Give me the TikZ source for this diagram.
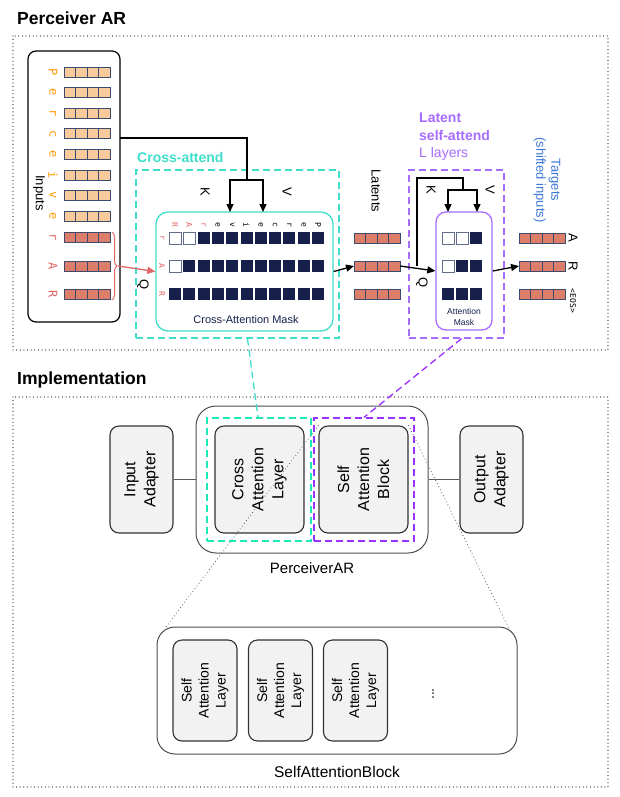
\documentclass[tikz,border=0pt]{standalone}
\usepackage{fontspec}
\setmainfont{Liberation Sans}
\newfontfamily\monof{DejaVu Sans Mono}
\usetikzlibrary{arrows.meta,decorations.pathreplacing}

\definecolor{inorange}{HTML}{F9CB9C}
\definecolor{letorange}{HTML}{FF9900}
\definecolor{latred}{HTML}{DD7E6B}
\definecolor{letred}{HTML}{E06666}
\definecolor{cellnavy}{HTML}{16204A}
\definecolor{celledge}{HTML}{3C4A6E}
\definecolor{xturq}{HTML}{40DEC8}
\definecolor{xgreen}{HTML}{1DE9B6}
\definecolor{lpurple}{HTML}{A66CFF}
\definecolor{spurple}{HTML}{9B30FF}
\definecolor{tblue}{HTML}{3C78D8}
\definecolor{boxgray}{HTML}{F2F2F2}

\begin{document}
\begin{tikzpicture}[x=1pt,y=-1pt,
    secframe/.style={draw=black!55, line width=1.2pt, dash pattern=on 0.01pt off 3.6pt, line cap=round},
    sectitle/.style={anchor=west, inner sep=0pt, font=\fontsize{17.5}{20}\selectfont\bfseries},
    cellline/.style={draw=celledge, line width=0.8pt},
    whitecell/.style={draw=celledge!80, fill=white, line width=0.8pt},
    letter/.style={rotate=-90, inner sep=0pt, font=\monof\fontsize{12}{13}\selectfont},
    masklbl/.style={rotate=-90, inner sep=0pt, font=\monof\fontsize{8}{9}\selectfont},
    maskbox/.style={line width=1.3pt, rounded corners=12pt, fill=white},
    masktxt/.style={text=cellnavy, align=center, inner sep=0pt},
    kvq/.style={rotate=-90, inner sep=0pt, font=\fontsize{13}{14}\selectfont},
    flow/.style={line width=1.3pt},
    flowtip/.style={-{Triangle[length=8pt,width=7pt]}},
    dashbox/.style={line width=1.3pt, dash pattern=on 7pt off 4pt},
    blockbox/.style={draw=black!80, fill=boxgray, rounded corners=9pt, line width=1.1pt,
      rotate=90, align=center, font=\fontsize{16}{20}\selectfont},
    layerbox/.style={blockbox, font=\fontsize{14}{17}\selectfont},
    linkline/.style={draw=black!65, line width=1.1pt},
    dotline/.style={draw=black!60, line width=1.2pt, dash pattern=on 0.01pt off 3.4pt, line cap=round}
  ]
\useasboundingbox (0,0) rectangle (620,797);

% sections
\node[sectitle] (ttlar) at (17,18) {Perceiver AR};
\node[sectitle] (ttlimpl) at (17,380) {Implementation};
\draw[secframe] (13,36) rectangle (608,350);
\draw[secframe] (13,397) rectangle (608,787);

% inputs
\node[draw, line width=1.2pt, rounded corners=8pt, minimum width=92pt, minimum height=271pt] (inputs) at (74,186.5) {};
\node[rotate=-90, font=\fontsize{13}{14}\selectfont] (inlbl) at (39,193) {Inputs};
\foreach \c [count=\i from 0] in {P,e,r,c,e,i,v,e} {
  \node[letter, text=letorange] (in\i) at (53,{72+20.6*\i}) {\c};
  \foreach \k in {0,...,3}
    \draw[cellline, fill=inorange] ({64+11.5*\k},{67+20.6*\i}) rectangle ++(11.5,10);
}
\foreach \c/\y [count=\i from 8] in {r/237,A/266,R/294} {
  \node[letter, text=letred] (in\i) at (53,\y) {\c};
  \foreach \k in {0,...,3}
    \draw[cellline, fill=latred] ({64+11.5*\k},{\y-5}) rectangle ++(11.5,10);
}
\draw[letred, line width=1pt, decorate, decoration={brace, amplitude=5pt}] (112,232) -- (112,300);
\coordinate (bracetip) at (118,266);

% cross-attend
\node[draw=xturq, dashbox, minimum width=203pt, minimum height=168pt] (xbox) at (237.5,254) {};
\node[anchor=west, inner sep=0pt, text=xturq, font=\fontsize{14}{16}\selectfont\bfseries] (xlbl) at (137,157) {Cross-attend};
\node[draw=xturq, maskbox, minimum width=177pt, minimum height=119pt] (xmask) at (244.5,271.5) {};
\foreach \r in {0,1,2}
  \foreach \k in {0,...,10}
    \fill[cellnavy] ({169+14.3*\k},{232+28*\r}) rectangle ++(12,12);
\foreach \k/\r in {0/0,1/0,0/1}
  \draw[whitecell] ({169+14.3*\k},{232+28*\r}) rectangle ++(12,12);
\foreach \c/\col [count=\k from 0] in {R/letred,A/letred,r/letred,e/black,v/black,i/black,e/black,c/black,r/black,e/black,P/black}
  \node[masklbl, text=\col] (xcol\k) at ({175+14.3*\k},225) {\c};
\foreach \c [count=\r from 0] in {r,A,R}
  \node[masklbl, text=letred] (xrow\r) at (162,{238+28*\r}) {\c};
\node[masktxt, font=\fontsize{11}{12}\selectfont] (xmasklbl) at (246,320) {Cross-Attention Mask};

\node[kvq] (xk) at (205,192) {K};
\node[kvq] (xv) at (287,192) {V};
\node[kvq] (xq) at (143,285) {Q};
\coordinate (kvsrc) at (120,138);
\coordinate (kvsplit) at (247,180);
\coordinate (xkin) at (230,212);
\coordinate (xvin) at (263,212);
\draw[flow] (kvsrc) -| (kvsplit);
\draw[flow, flowtip] (kvsplit) -| (xkin);
\draw[flow, flowtip] (kvsplit) -| (xvin);
\draw[letred, line width=1.3pt, flowtip] (bracetip) -- (xmask.west);

% latents
\foreach \y [count=\i] in {238,266,294} {
  \foreach \k in {0,...,3}
    \draw[cellline, fill=latred] ({354+11.5*\k},{\y-5}) rectangle ++(11.5,10);
  \coordinate (lat\i) at (400,\y);
}
\coordinate (latin) at (354,266);
\node[rotate=-90, font=\fontsize{13}{14}\selectfont] (latlbl) at (376,191) {Latents};
\draw[flow, flowtip] (xmask.east) -- (latin);

% latent self-attend
\node[draw=lpurple, dashbox, minimum width=95pt, minimum height=168pt] (lbox) at (456.5,254) {};
\node[anchor=west, inner sep=0pt, align=left, text=lpurple, font=\fontsize{14}{17.5}\selectfont] (llbl) at (419,137)
  {\textbf{Latent}\\\textbf{self-attend}\\L layers};
\node[draw=lpurple, maskbox, rounded corners=10pt, minimum width=56pt, minimum height=118pt] (amask) at (464,271) {};
\foreach \r in {0,1,2}
  \foreach \k in {0,1,2}
    \fill[cellnavy] ({442+14*\k},{232+28*\r}) rectangle ++(12,12);
\foreach \k/\r in {0/0,1/0,0/1}
  \draw[whitecell] ({442+14*\k},{232+28*\r}) rectangle ++(12,12);
\node[masktxt, font=\fontsize{8.5}{11}\selectfont] (amasklbl) at (464,317) {Attention\\Mask};

\node[kvq] (lk) at (431,190) {K};
\node[kvq] (lv) at (490,190) {V};
\node[kvq] (lq) at (422,283) {Q};
\coordinate (qbr) at (417,266);
\coordinate (ltop) at (463,178);
\coordinate (lsplit) at (463,190);
\coordinate (lkin) at (448,212);
\coordinate (lvin) at (477,212);
\draw[flow, flowtip] (lat2) -- (amask.west);
\draw[flow] (qbr) |- (ltop) -- (lsplit);
\draw[flow, flowtip] (lsplit) -| (lkin);
\draw[flow, flowtip] (lsplit) -| (lvin);

% targets
\foreach \y [count=\i] in {238,266,294}
  \foreach \k in {0,...,3}
    \draw[cellline, fill=latred] ({519+11.5*\k},{\y-5}) rectangle ++(11.5,10);
\coordinate (tgtin) at (519,266);
\draw[flow, flowtip] (amask.east) -- (tgtin);
\node[rotate=-90, align=center, text=tblue, font=\fontsize{13}{15}\selectfont] (tgtlbl) at (547,180) {Targets\\(shifted inputs)};
\node[kvq] (ta) at (573,238) {A};
\node[kvq] (tr) at (573,266) {R};
\node[masklbl, font=\monof\fontsize{8}{9}\selectfont] (teos) at (573,301) {<EOS>};

% implementation
\node[draw=black!70, line width=1pt, rounded corners=20pt, minimum width=232pt, minimum height=147pt] (par) at (312,479.5) {};
\node[font=\fontsize{15}{17}\selectfont] (parlbl) at (312,568) {PerceiverAR};
\node[draw=xgreen, dashbox, minimum width=104pt, minimum height=123pt] (cdash) at (259,479.5) {};
\node[draw=spurple, dashbox, minimum width=100pt, minimum height=123pt] (pdash) at (364,479.5) {};
\node[blockbox, minimum width=107pt, minimum height=63pt] (inA) at (141.5,479.5) {Input\\Adapter};
\node[blockbox, minimum width=107pt, minimum height=89pt] (cal) at (259.5,479.5) {Cross\\Attention\\Layer};
\node[blockbox, minimum width=107pt, minimum height=89pt] (sab) at (363.5,479.5) {Self\\Attention\\Block};
\node[blockbox, minimum width=107pt, minimum height=63pt] (outA) at (491.5,479.5) {Output\\Adapter};
\draw[linkline] (inA) -- (par);
\draw[linkline] (par) -- (outA);

\node[draw=black!70, line width=1pt, rounded corners=18pt, minimum width=360pt, minimum height=127pt] (blk) at (337,690.5) {};
\node[layerbox, minimum width=101pt, minimum height=64pt] (sal1) at (205,690.5) {Self\\Attention\\Layer};
\node[layerbox, minimum width=101pt, minimum height=64pt] (sal2) at (280.5,690.5) {Self\\Attention\\Layer};
\node[layerbox, minimum width=101pt, minimum height=64pt] (sal3) at (355.5,690.5) {Self\\Attention\\Layer};
\node[rotate=90, font=\fontsize{14}{16}\selectfont] (more) at (433,694) {...};
\node[font=\fontsize{15.5}{18}\selectfont] (blklbl) at (337,772) {SelfAttentionBlock};

% links between the two parts
\draw[xturq, dashbox] ([xshift=10pt]xbox.south) -- ([xshift=-1pt]cdash.north);
\draw[spurple, dashbox] ([xshift=5pt]lbox.south) -- (pdash.north);
\draw[dotline] (sab.north east) -- ([xshift=9pt,yshift=-1pt]blk.north west);
\draw[dotline] (sab.south east) -- ([xshift=-9pt,yshift=-1pt]blk.north east);
\end{tikzpicture}
\end{document}
